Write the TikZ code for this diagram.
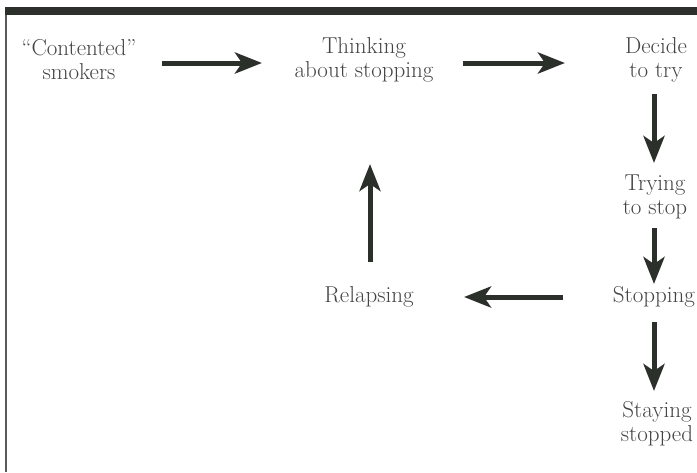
\documentclass[tikz,border=0pt]{standalone}
\usetikzlibrary{arrows.meta,calc}
\definecolor{txt}{HTML}{444444}
\definecolor{ink}{HTML}{2B302B}
\definecolor{frame}{HTML}{5A5A5A}
\begin{document}
\begin{tikzpicture}[x=1pt,y=-1pt,
  lbl/.style={text=txt,align=center,inner sep=0pt,font=\fontsize{23}{24}\selectfont},
  arr/.style={draw=ink,line width=5pt,-{Stealth[length=27pt,width=21pt,inset=7pt]}}]
\useasboundingbox (0,0) rectangle (697,472);
% frame
\fill[ink] (5,7) rectangle (697,15);
\draw[frame,line width=1.5pt] (6,15) -- (6,472);
% nodes
\node[lbl] (contented) at (79,60) {``Contented''\\smokers};
\node[lbl] (thinking) at (364,60) {Thinking\\about stopping};
\node[lbl] (decide) at (656,60) {Decide\\to try};
\node[lbl] (trying) at (655,197) {Trying\\to stop};
\node[lbl] (stopping) at (654,297) {Stopping};
\node[lbl] (staying) at (657,424) {Staying\\stopped};
\node[lbl] (relapsing) at (369,297) {Relapsing};
% arrows
\draw[arr] ($(contented.center)+(83,3)$) -- ($(thinking.center)+(-102,3)$);
\draw[arr] ($(thinking.center)+(99,3)$) -- ($(decide.center)+(-91,3)$);
\draw[arr] ($(decide.center)+(-2,34)$) -- ($(trying.center)+(-1,-34)$);
\draw[arr] ($(trying.center)+(-1,31)$) -- ($(stopping.center)+(0,-13)$);
\draw[arr] ($(stopping.center)+(0,25)$) -- ($(staying.center)+(-3,-33)$);
\draw[arr] ($(stopping.center)+(-91,0)$) -- ($(relapsing.center)+(95,0)$);
\draw[arr] ($(relapsing.center)+(1,-35)$) -- ($(thinking.center)+(6,104)$);
\end{tikzpicture}
\end{document}
